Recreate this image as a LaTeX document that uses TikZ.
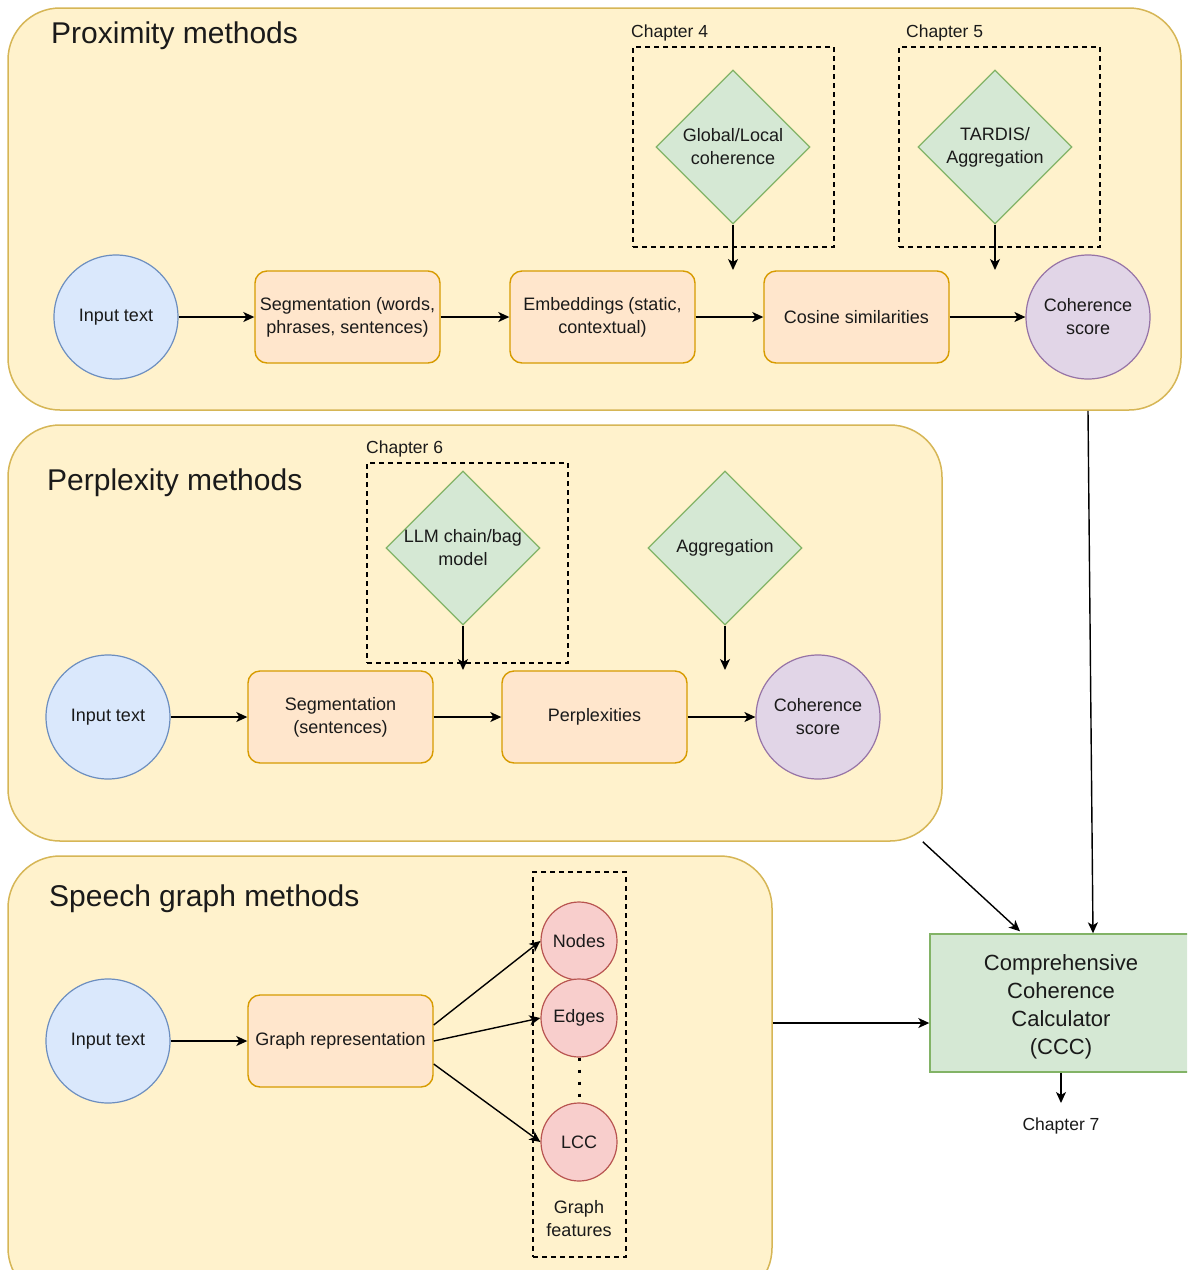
\documentclass[tikz,border=0pt]{standalone}
\usepackage{fontspec}
\setmainfont{Liberation Sans}
\usetikzlibrary{shapes.geometric,arrows.meta,calc}

\definecolor{panelfill}{HTML}{FFF2CC}
\definecolor{paneldraw}{HTML}{D6B656}
\definecolor{boxfill}{HTML}{FFE6CC}
\definecolor{boxdraw}{HTML}{D79B00}
\definecolor{inputfill}{HTML}{DAE8FC}
\definecolor{inputdraw}{HTML}{6C8EBF}
\definecolor{outfill}{HTML}{E1D5E7}
\definecolor{outdraw}{HTML}{9673A6}
\definecolor{greenfill}{HTML}{D5E8D4}
\definecolor{greendraw}{HTML}{82B366}
\definecolor{redfill}{HTML}{F8CECC}
\definecolor{reddraw}{HTML}{B85450}
\definecolor{ink}{HTML}{1A1A1A}

\begin{document}
\begin{tikzpicture}[
  x=1pt, y=-1pt,
  font=\fontsize{18}{23}\selectfont, text=ink,
  panel/.style={draw=paneldraw, fill=panelfill, line width=1.5pt,
    rounded corners=52pt, inner sep=0},
  paneltitle/.style={anchor=west, inner sep=0, font=\fontsize{30}{36}\selectfont},
  stepbox/.style={draw=boxdraw, fill=boxfill, line width=1.4pt,
    rounded corners=12pt, minimum width=185pt, minimum height=92pt,
    align=center, inner sep=0},
  inputnode/.style={circle, draw=inputdraw, fill=inputfill, line width=1.2pt,
    minimum size=124pt, inner sep=0, align=center},
  scorenode/.style={circle, draw=outdraw, fill=outfill, line width=1.2pt,
    minimum size=124pt, inner sep=0, align=center},
  choice/.style={diamond, draw=greendraw, fill=greenfill, line width=1.2pt,
    minimum width=154pt, minimum height=154pt, inner sep=0},
  chapbox/.style={draw=black, dash pattern=on 5pt off 4pt, line width=1.2pt,
    inner sep=0},
  chaplabel/.style={inner sep=0, font=\fontsize{17.5}{21}\selectfont},
  feature/.style={ellipse, draw=reddraw, fill=redfill, line width=1.2pt,
    minimum width=76pt, minimum height=78pt, inner sep=0},
  arr/.style={draw=black, line width=1.4pt,
    -{Stealth[length=11pt,width=10pt,inset=3pt]}},
]
\useasboundingbox (0,0) rectangle (1187,1270);
\clip (0,0) rectangle (1187,1270);

% ---------- panels ----------
\node[panel, minimum width=1173pt, minimum height=402pt] (prox) at (594.5,209) {};
\node[panel, minimum width=934pt, minimum height=416pt] (perp) at (475,633) {};
\node[panel, minimum width=764pt, minimum height=444pt] (speech) at (390,1078) {};

\node[paneltitle] (proxtitle) at (51,36) {Proximity methods};
\node[paneltitle] (perptitle) at (47,483) {Perplexity methods};
\node[paneltitle] (speechtitle) at (49,899) {Speech graph methods};

% ---------- chapter frames ----------
\node[chapbox, minimum width=201pt, minimum height=200pt] (ch4) at (733.5,147) {};
\node[chapbox, minimum width=201pt, minimum height=200pt] (ch5) at (999.5,147) {};
\node[chapbox, minimum width=201pt, minimum height=200pt] (ch6) at (467.5,563) {};
\node[chapbox, minimum width=93pt, minimum height=385pt] (featbox) at (579.5,1064.5) {};

\node[chaplabel, anchor=west] (ch4lbl) at (631,33) {Chapter 4};
\node[chaplabel, anchor=west] (ch5lbl) at (906,33) {Chapter 5};
\node[chaplabel, anchor=west] (ch6lbl) at (366,449) {Chapter 6};

% ---------- proximity pipeline ----------
\node[inputnode] (in1) at (116,317) {Input text};
\node[stepbox] (seg1) at (347.5,317) {Segmentation (words,\\phrases, sentences)};
\node[stepbox] (emb1) at (602.5,317) {Embeddings (static,\\contextual)};
\node[stepbox] (cos1) at (856.5,317) {Cosine similarities};
\node[scorenode] (coh1) at (1088,317) {Coherence\\score};
\node[choice, label={[align=center]center:Global/Local\\coherence}] (glob) at (733,147) {};
\node[choice, label={[align=center]center:TARDIS/\\Aggregation}] (tardis) at (995,147) {};
\coordinate (globend) at (733,270);
\coordinate (tardisend) at (995,270);

\draw[arr] (in1) -- (seg1);
\draw[arr] (seg1) -- (emb1);
\draw[arr] (emb1) -- (cos1);
\draw[arr] (cos1) -- (coh1);
\draw[arr] (glob.south) -- (globend);
\draw[arr] (tardis.south) -- (tardisend);

% ---------- perplexity pipeline ----------
\node[inputnode] (in2) at (108,717) {Input text};
\node[stepbox] (seg2) at (340.5,717) {Segmentation\\(sentences)};
\node[stepbox] (ppl) at (594.5,717) {Perplexities};
\node[scorenode] (coh2) at (818,717) {Coherence\\score};
\node[choice, label={[align=center]center:LLM chain/bag\\model}] (llm) at (463,548) {};
\node[choice, label={[align=center]center:Aggregation}] (agg) at (725,548) {};
\coordinate (llmend) at (463,670);
\coordinate (aggend) at (725,670);

\draw[arr] (in2) -- (seg2);
\draw[arr] (seg2) -- (ppl);
\draw[arr] (ppl) -- (coh2);
\draw[arr] (llm.south) -- (llmend);
\draw[arr] (agg.south) -- (aggend);

% ---------- speech graph pipeline ----------
\node[inputnode] (in3) at (108,1041) {Input text};
\node[stepbox] (graph) at (340.5,1041) {Graph representation};
\node[feature] (fnodes) at (579,941) {Nodes};
\node[feature] (fedges) at (579,1018) {Edges};
\node[feature] (flcc) at (579,1142) {LCC};
\node[align=center, inner sep=0] (featlbl) at (579,1219) {Graph\\features};

\draw[arr] (in3) -- (graph);
\draw[arr] ([yshift=16pt]graph.east) -- (fnodes.west);
\draw[arr] (graph.east) -- (fedges.west);
\draw[arr] ([yshift=-23pt]graph.east) -- (flcc.west);
\draw[line width=3pt, dash pattern=on 3pt off 9pt] (fedges.south) -- (flcc.north);

% ---------- combined calculator ----------
\node[draw=greendraw, fill=greenfill, line width=1.4pt, minimum width=262pt,
      minimum height=138pt, inner sep=0,
      label={[align=center, yshift=-4pt, font=\fontsize{22}{28}\selectfont]center:Comprehensive\\Coherence\\Calculator\\(CCC)}]
  (ccc) at (1061,1003) {};
\node[chaplabel] (ch7) at (1061,1126) {Chapter 7};
\coordinate (cccend) at (1061,1103);
\coordinate (cccin) at ([yshift=-20pt]ccc.west);

\draw[arr] (prox.south -| coh1.center) -- ([xshift=32pt]ccc.north);
\draw[arr] ([xshift=-20pt]perp.south east) -- ([xshift=-41pt,yshift=2pt]ccc.north);
\draw[arr] (speech.east |- cccin) -- (cccin);
\draw[arr] (ccc.south) -- (cccend);
\end{tikzpicture}
\end{document}
